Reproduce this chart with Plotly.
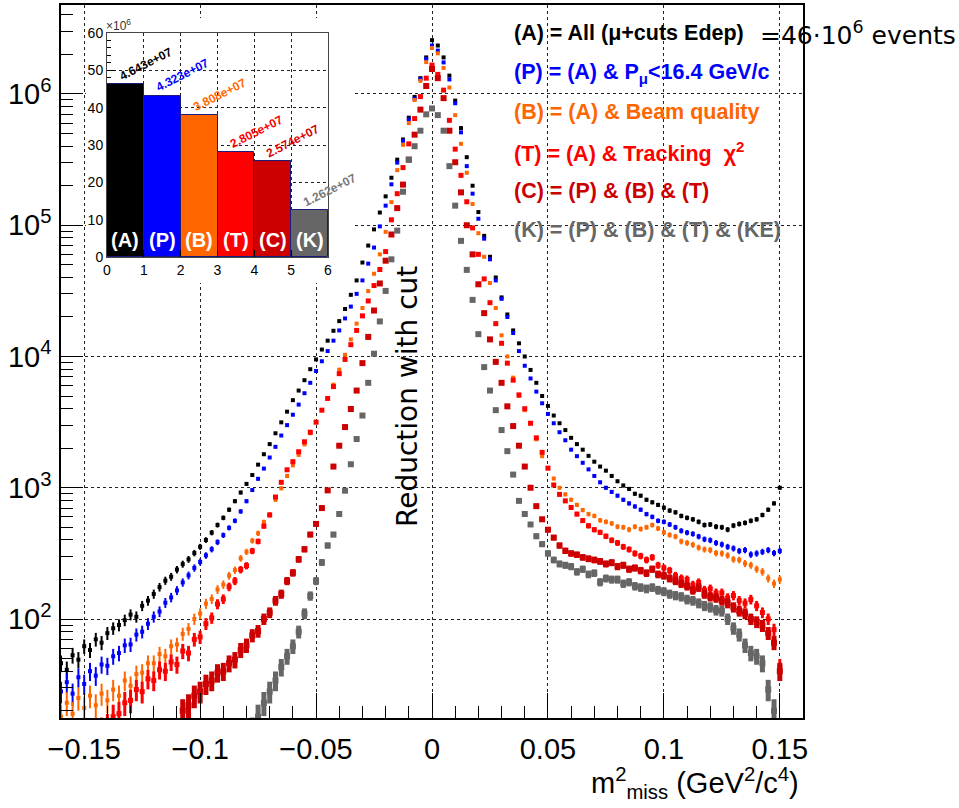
import numpy as np
import plotly.graph_objects as go

# ---------------- data ----------------
BIN_LO = -0.16
BIN_STEP = 0.0025
N_BINS = 125
m2_miss = np.round(BIN_LO + BIN_STEP * np.arange(N_BINS), 5)

counts_A = [46, 41, 53, 49, 62, 58, 70, 66, 78, 85,
            90, 98, 108, 104, 126, 138, 155, 175, 196, 210,
            238, 262, 285, 318, 355, 400, 455, 520, 590, 680,
            790, 920, 1070, 1250, 1500, 1800, 2150, 2600, 3150, 3800,
            4650, 5500, 6600, 8000, 9500, 11300, 13200, 15700, 18600, 23000,
            29500, 38000, 52000, 70000, 93000, 125000, 166000, 230000, 316000, 450000,
            660000, 950000, 1320000, 1900000, 2570000,
            2340000, 1900000, 1380000, 890000, 550000, 330000, 200000, 126000, 83000, 57500,
            40000, 28200, 20900, 15800, 12600, 10000, 7900, 6300, 5000, 4200,
            3550, 3100, 2750, 2400, 2150, 1950, 1750, 1580, 1450, 1350,
            1230, 1120, 1040, 980, 900, 870, 810, 775, 740, 705,
            670, 650, 610, 590, 575, 550, 520, 525, 505, 500,
            480, 515, 530, 540, 560, 575, 620, 680, 760, 1000]

counts_P = [28, 33, 27, 36, 32, 40, 37, 45, 44, 52,
            55, 63, 64, 76, 80, 92, 104, 114, 133, 146,
            165, 190, 215, 245, 272, 305, 340, 385, 435, 495,
            560, 660, 790, 960, 1170, 1400, 1700, 2050, 2500, 3000,
            3600, 4300, 5250, 6300, 7750, 9200, 11000, 13200, 15800, 19500,
            24000, 30000, 38000, 51000, 67600, 98000, 141000, 205000, 300000, 440000,
            640000, 920000, 1300000, 1850000, 2340000,
            2140000, 1740000, 1290000, 850000, 510000, 282000, 174000, 112000, 79000, 55000,
            38000, 27500, 20000, 15100, 11000, 8500, 6800, 5400, 4400, 3650,
            3100, 2650, 2300, 1950, 1740, 1550, 1380, 1230, 1100, 1000,
            930, 870, 810, 760, 720, 680, 630, 600, 560, 550,
            525, 500, 470, 455, 445, 425, 405, 398, 380, 370,
            355, 345, 330, 335, 310, 316, 325, 335, 318, 330]

counts_B = [18, 23, 19, 25, 21, 26, 22, 27, 24, 29,
            26, 34, 31, 38, 39, 46, 46, 54, 52, 62,
            64, 77, 84, 100, 110, 131, 142, 168, 183, 214,
            236, 290, 325, 395, 450, 548, 625, 810, 990, 1230,
            1480, 1780, 2140, 2600, 3160, 3900, 4790, 6100, 7940, 10300,
            13500, 17800, 23400, 31500, 42700, 60000, 89000, 150000, 263000, 410000,
            600000, 900000, 1260000, 1750000, 2240000,
            2040000, 1580000, 1120000, 690000, 417000, 251000, 145000, 87000, 57500, 36300,
            23400, 14500, 10000, 6900, 5000, 3900, 3100, 2340, 1740, 1410,
            1175, 1000, 890, 810, 740, 676, 630, 610, 565, 550,
            535, 505, 500, 480, 505, 485, 500, 520, 490, 457,
            437, 425, 390, 380, 368, 350, 339, 335, 318, 316,
            305, 285, 282, 265, 257, 240, 229, 204, 186, 200]

counts_T = [9, 11, 8, 12, 10, 13, 11, 14, 15, 18,
            19, 23, 24, 29, 28, 35, 34, 41, 40, 47,
            45, 57, 55, 70, 73, 92, 102, 130, 142, 176,
            195, 238, 255, 330, 390, 510, 620, 850, 1100, 1370,
            1580, 1880, 2240, 2650, 3160, 3900, 4790, 5900, 7400, 9500,
            12300, 15800, 20400, 26500, 34700, 46000, 63000, 110000, 174000, 275000,
            417000, 650000, 955000, 1320000, 1660000,
            1410000, 1070000, 630000, 380000, 240000, 151000, 95500, 60000, 39000, 25700,
            17800, 12600, 8900, 6600, 5100, 4000, 3100, 2400, 1860, 1410,
            1050, 890, 794, 708, 630, 562, 513, 479, 457, 427,
            398, 380, 355, 339, 316, 302, 282, 295, 257, 245,
            234, 214, 204, 200, 182, 190, 166, 170, 158, 158,
            145, 151, 138, 132, 141, 126, 112, 100, 83, 43]

counts_C = [5, 6, 5, 6, 6, 7, 6, 7, 7, 8,
            8, 7, 8, 9, 9, 10, 10, 9, 11, 12,
            13, 20, 22, 26, 28, 32, 34, 39, 40, 46,
            49, 58, 63, 75, 81, 100, 112, 138, 155, 195,
            225, 285, 340, 440, 530, 700, 955, 1450, 2090, 2900,
            3980, 5500, 8900, 14100, 22400, 36000, 53700, 85000, 135000, 204000,
            316000, 490000, 760000, 1150000, 1550000,
            1320000, 930000, 525000, 302000, 178000, 100000, 60000, 35500, 21400, 13500,
            9100, 6300, 4170, 2950, 2090, 1450, 1000, 724, 575, 479,
            417, 363, 331, 316, 309, 295, 288, 282, 275, 263,
            269, 251, 257, 240, 245, 234, 224, 240, 219, 214,
            204, 195, 186, 178, 166, 174, 155, 148, 145, 138,
            132, 123, 115, 110, 100, 95, 89, 78, 66, 40]

counts_K = [4, 5, 4, 5, 5, 6, 5, 6, 6, 7,
            6, 7, 7, 8, 7, 8, 8, 9, 8, 9,
            9, 10, 9, 10, 10, 11, 10, 11, 11, 12,
            12, 12, 13, 14, 18, 23, 28, 34, 43, 52,
            62, 80, 110, 150, 195, 270, 363, 440, 631, 950,
            1510, 2350, 3550, 6300, 10500, 18500, 31600, 55000, 91000, 180000,
            316000, 400000, 525000, 700000, 776000,
            690000, 525000, 282000, 141000, 76000, 45700, 27000, 14800, 8300, 5500,
            3900, 2750, 1900, 1260, 794, 631, 525, 427, 372, 316,
            282, 263, 257, 251, 229, 240, 219, 224, 191, 204,
            200, 200, 186, 191, 178, 174, 170, 174, 166, 162,
            155, 151, 148, 141, 138, 132, 126, 123, 117, 115,
            100, 85, 76, 63, 55, 52, 46, 29, 20, 12]

series_keys = ["A", "P", "B", "T", "C", "K"]
series_counts = [counts_A, counts_P, counts_B, counts_T, counts_C, counts_K]
series_colors = ["#000000", "#0000ff", "#ff6600", "#ff0000", "#cc0000", "#666666"]

legend_lines = [
    "<b>(A) = All (μ+cuts Edep)</b>",
    "<b>(P) = (A) &amp; P<sub>μ</sub>&lt;16.4 GeV/c</b>",
    "<b>(B) = (A) &amp; Beam quality</b>",
    "<b>(T) = (A) &amp; Tracking  χ<sup>2</sup></b>",
    "<b>(C) = (P) &amp; (B) &amp; (T)</b>",
    "<b>(K) = (P) &amp; (B) &amp; (T) &amp; (KE)</b>",
]

inset_totals = [46.43, 43.23, 38.08, 28.05, 25.74, 12.62]   # in units of 10^6
inset_value_text = ["4.643e+07", "4.323e+07", "3.808e+07", "2.805e+07", "2.574e+07", "1.262e+07"]
inset_labels = ["(A)", "(P)", "(B)", "(T)", "(C)", "(K)"]
inset_value_colors = ["#000000", "#0000ff", "#ff6600", "#ff0000", "#dd0000", "#777777"]

x_tickvals = [-0.15, -0.1, -0.05, 0, 0.05, 0.1, 0.15]
x_ticktext = ["\u22120.15", "\u22120.1", "\u22120.05", "0", "0.05", "0.1", "0.15"]
y_tickvals = [1e2, 1e3, 1e4, 1e5, 1e6]
y_ticktext = ["10<sup>2</sup>", "10<sup>3</sup>", "10<sup>4</sup>", "10<sup>5</sup>", "10<sup>6</sup>"]

# ---------------- figure ----------------
W, H = 959, 808
L, R, T, B = 61, 803, 5, 718      # plot-area pixel box


def px_x(p):
    return (p - L) / (R - L)


def px_y(p):
    return (B - p) / (B - T)


HELV = "Liberation Sans, Arial, Helvetica, sans-serif"
DEJA = "DejaVu Sans, sans-serif"

fig = go.Figure()

marker_sizes = [4, 4, 4, 5, 6, 6]
err_thick = [2, 2, 2, 3, 5, 5]
for key, cnt, col, ms, et in zip(series_keys, series_counts, series_colors, marker_sizes, err_thick):
    y = np.array(cnt, dtype=float)
    fig.add_trace(go.Scatter(
        x=m2_miss, y=y, mode="markers", name=key,
        marker=dict(symbol="square", size=ms, color=col, line=dict(width=0)),
        error_y=dict(type="data", array=np.sqrt(y), thickness=et, width=0, color=col),
        showlegend=False, hoverinfo="skip",
    ))

# empty white pad subplot behind the inset (hides the main grid there)
fig.add_trace(go.Scatter(x=[None], y=[None], xaxis="x2", yaxis="y2",
                         showlegend=False, hoverinfo="skip"))

# inset histogram of event counts
bar_pos = [i + 0.5 for i in range(len(inset_totals))]
fig.add_trace(go.Bar(
    x=bar_pos, y=inset_totals, width=1.0,
    marker=dict(color=series_colors, line=dict(color="#1a1a80", width=1)),
    xaxis="x3", yaxis="y3", showlegend=False, hoverinfo="skip",
))

annotations = []
legend_y = [33, 73, 112, 152, 191, 230]
for txt, col, yc in zip(legend_lines, series_colors, legend_y):
    annotations.append(dict(
        text=txt, xref="paper", yref="paper", x=px_x(512), y=px_y(yc),
        xanchor="left", yanchor="middle", showarrow=False,
        font=dict(family=HELV, size=21.5, color=col),
    ))
annotations.append(dict(
    text="=46·10<sup>6</sup> events", xref="paper", yref="paper",
    x=px_x(958), y=px_y(33), xanchor="right", yanchor="middle", showarrow=False,
    font=dict(family=DEJA, size=25, color="black"),
))
annotations.append(dict(
    text="Reduction with cut", xref="paper", yref="paper",
    x=px_x(407), y=px_y(397), xanchor="center", yanchor="middle",
    textangle=-90, showarrow=False, font=dict(family=DEJA, size=28, color="black"),
))
annotations.append(dict(
    text="m<sup>2</sup><sub>miss</sub> (GeV<sup>2</sup>/c<sup>4</sup>)",
    xref="paper", yref="paper", x=px_x(801), y=px_y(783),
    xanchor="right", yanchor="middle", showarrow=False,
    font=dict(family=HELV, size=29, color="black"),
))
annotations.append(dict(
    text="×10<sup>6</sup>", xref="paper", yref="paper", x=px_x(104), y=px_y(25),
    xanchor="left", yanchor="middle", showarrow=False,
    font=dict(family=HELV, size=12, color="#333333"),
))
for i, (h, txt, col) in enumerate(zip(inset_totals, inset_value_text, inset_value_colors)):
    annotations.append(dict(
        text="<b>" + txt + "</b>", xref="x3", yref="y3", x=bar_pos[i] - 0.3, y=h + 5.4,
        xanchor="left", yanchor="middle", textangle=-27, showarrow=False,
        font=dict(family=HELV, size=12, color=col),
    ))
    annotations.append(dict(
        text="<b>" + inset_labels[i] + "</b>", xref="x3", yref="y3",
        x=bar_pos[i], y=4.6, xanchor="center", yanchor="middle", showarrow=False,
        font=dict(family=HELV, size=20, color="white"),
    ))

grid_common = dict(showgrid=True, gridcolor="#222222", griddash="dot", gridwidth=1)

fig.update_layout(
    width=W, height=H,
    margin=dict(l=L, r=W - R, t=T, b=H - B, pad=0, autoexpand=False),
    paper_bgcolor="white", plot_bgcolor="white",
    showlegend=False, bargap=0,
    annotations=annotations,
    xaxis=dict(
        range=[-0.16, 0.16], tickmode="array", tickvals=x_tickvals, ticktext=x_ticktext,
        ticks="inside", ticklen=25, tickwidth=1, tickcolor="black",
        minor=dict(dtick=0.01, tick0=0, ticks="inside", ticklen=12, tickcolor="black", showgrid=False),
        showline=True, linecolor="black", linewidth=1.5, mirror=True,
        zeroline=False, ticklabelstandoff=4, automargin=False,
        tickfont=dict(family=HELV, size=29, color="black"), **grid_common,
    ),
    yaxis=dict(
        type="log", range=[1.2457, 6.678], tickmode="array", tickvals=y_tickvals, ticktext=y_ticktext,
        ticks="inside", ticklen=22, tickwidth=1, tickcolor="black",
        minor=dict(dtick="D1", ticks="inside", ticklen=12, tickcolor="black", showgrid=False),
        showline=True, linecolor="black", linewidth=1.5, mirror=True,
        zeroline=False, ticklabelstandoff=2, automargin=False,
        tickfont=dict(family=HELV, size=29, color="black"), **grid_common,
    ),
    xaxis2=dict(domain=[px_x(86), px_x(352)], anchor="y2", visible=False, automargin=False,
                showgrid=False, zeroline=False, range=[0, 1]),
    yaxis2=dict(domain=[px_y(283), px_y(18)], anchor="x2", visible=False, automargin=False,
                showgrid=False, zeroline=False, range=[0, 1]),
    xaxis3=dict(
        domain=[px_x(107), px_x(328)], anchor="y3", range=[0, 6],
        tickmode="array", tickvals=[0, 1, 2, 3, 4, 5, 6],
        ticks="inside", ticklen=7, tickcolor="black", automargin=False,
        showline=True, linecolor="#444444", linewidth=1, mirror=True, zeroline=False,
        tickfont=dict(family=HELV, size=14, color="black"), **grid_common,
    ),
    yaxis3=dict(
        domain=[px_y(257), px_y(33)], anchor="x3", range=[0, 60],
        tickmode="array", tickvals=[0, 10, 20, 30, 40, 50, 60],
        ticks="inside", ticklen=8, tickcolor="black", automargin=False,
        minor=dict(dtick=2, ticks="inside", ticklen=4, tickcolor="black", showgrid=False),
        showline=True, linecolor="#444444", linewidth=1, mirror=True, zeroline=False,
        tickfont=dict(family=HELV, size=14, color="black"), **grid_common,
    ),
)

fig.write_html("out.html")
